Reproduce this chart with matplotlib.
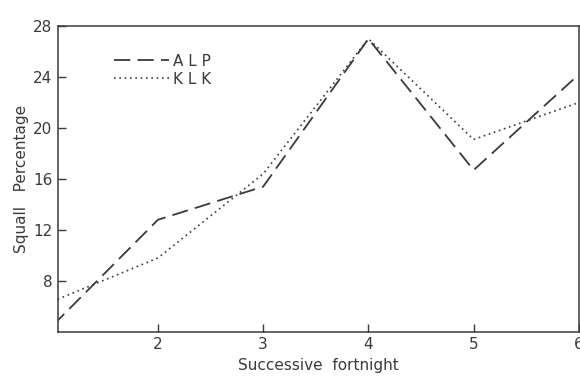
import matplotlib
matplotlib.use('Agg')
import matplotlib.pyplot as plt

# Data
fortnight = [1, 2, 3, 4, 5, 6]
alp = [4.5, 12.8, 15.4, 27.0, 16.7, 24.2]
klk = [6.4, 9.8, 16.4, 27.0, 19.1, 22.0]
xticks = [2, 3, 4, 5, 6]
yticks = [8, 12, 16, 20, 24, 28]

ink = '#3a3a3a'
plt.rcParams['font.family'] = 'DejaVu Sans'

fig = plt.figure(figsize=(5.8, 3.78), dpi=100)
ax = fig.add_axes([0.1, 0.122, 0.898, 0.809])

ax.plot(fortnight, alp, color=ink, lw=1.3, dashes=(9, 4), label='A L P')
ax.plot(fortnight, klk, color=ink, lw=1.2, dashes=(1, 2.2), label='K L K')

ax.set_xlim(1.05, 6.0)
ax.set_ylim(4, 28)
ax.set_xticks(xticks)
ax.set_yticks(yticks)
ax.tick_params(direction='in', length=6, width=1, colors=ink,
               labelsize=11, pad=4)
for s in ax.spines.values():
    s.set_color(ink)
    s.set_linewidth(1.1)

ax.set_xlabel('Successive  fortnight', fontsize=11, color=ink, labelpad=4)
ax.set_ylabel('Squall   Percentage', fontsize=11, color=ink, labelpad=3)

leg = ax.legend(loc='upper left', bbox_to_anchor=(0.095, 0.93), frameon=False,
                handlelength=3.6, handletextpad=0.3, labelspacing=0.2,
                fontsize=11, borderaxespad=0)
for t in leg.get_texts():
    t.set_color(ink)

fig.savefig('out.png', dpi=100)
